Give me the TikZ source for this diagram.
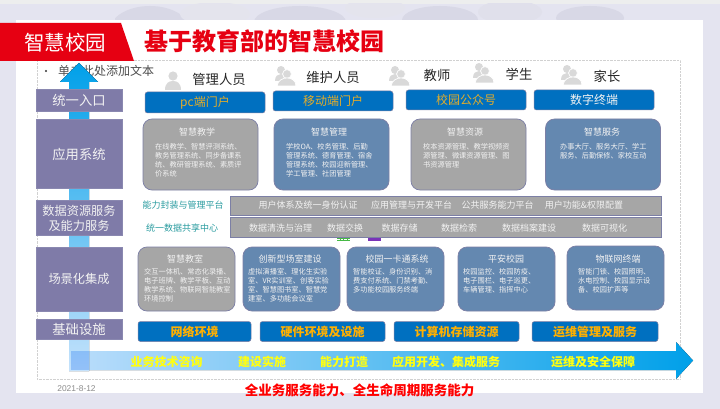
\documentclass[tikz,border=0pt]{standalone}
\usepackage{fontspec}
\setmainfont{Noto Sans CJK SC}
\newfontfamily\latinf{Liberation Sans}
\definecolor{pagebg}{HTML}{E4E4F0}
\definecolor{stripc}{HTML}{EDEEEE}
\definecolor{petal}{HTML}{D8D8E6}
\definecolor{redc}{HTML}{E60012}
\definecolor{purplec}{HTML}{7F7BA8}
\definecolor{purpleedge}{HTML}{8A88B0}
\definecolor{bluec}{HTML}{0070C0}
\definecolor{goldc}{HTML}{E3AC2A}
\definecolor{goldb}{HTML}{FFB000}
\definecolor{grayc}{HTML}{A6A6A6}
\definecolor{steelc}{HTML}{6488B0}
\definecolor{edgec}{HTML}{7C7FA5}
\definecolor{skyc}{HTML}{00A0E9}
\definecolor{palesky}{HTML}{BBDDFB}
\definecolor{tealc}{HTML}{2A9CA0}
\definecolor{softw}{HTML}{F2F2F2}
\definecolor{iconc}{HTML}{D9D9D9}
\definecolor{yellowc}{HTML}{FFFF10}
\tikzset{
  x=1pt,y=-1pt,
  sidebox/.style={fill=purplec,draw=purpleedge,line width=.5pt,text=softw,align=center,inner sep=0pt,font=\fontsize{13.3}{16}\selectfont},
  portal/.style={fill=bluec,draw=edgec,line width=.5pt,rounded corners=2.5pt,inner sep=0pt,font=\fontsize{12}{14}\selectfont},
  infra/.style={fill=bluec,draw=edgec,line width=.5pt,rounded corners=2.5pt,inner sep=0pt,text=goldb,font=\bfseries\fontsize{12}{14}\selectfont},
  graycard/.style={fill=grayc,draw=edgec,line width=.7pt,rounded corners=9pt},
  steelcard/.style={fill=steelc,draw=edgec,line width=.7pt,rounded corners=9pt},
  cardtitle/.style={text=softw,inner sep=0pt,font=\fontsize{9}{11}\selectfont},
  cardbody/.style={text=softw,inner sep=0pt,anchor=north west,align=left,font=\fontsize{7.2}{9}\selectfont},
  barbox/.style={fill=grayc,draw=edgec,line width=.5pt},
  bartext/.style={text=softw,inner sep=0pt,font=\fontsize{9}{11}\selectfont},
  teallabel/.style={text=tealc,inner sep=0pt,font=\fontsize{9}{11}\selectfont},
  rolelabel/.style={text=black!85,inner sep=0pt,font=\fontsize{13.3}{15}\selectfont},
  flowlabel/.style={text=yellowc,inner sep=0pt,font=\bfseries\fontsize{12}{14}\selectfont},
  icon1/.pic={\fill[iconc] (0,-5) circle (4.6); \fill[iconc] (-8,9) .. controls (-8,2) and (-4,0) .. (0,0) .. controls (4,0) and (8,2) .. (8,9) -- cycle;},
  icon2/.pic={\fill[iconc] (-4,-7) circle (4); \fill[iconc] (-10,4) .. controls (-10,-1) and (-7,-3) .. (-4,-3) .. controls (-1,-3) and (2,-1) .. (2,4) -- cycle;
              \filldraw[fill=iconc,draw=white,line width=.7pt] (2,-3) circle (4.4); \filldraw[fill=iconc,draw=white,line width=.7pt] (-8,9) .. controls (-7,3) and (-2,1) .. (2,1) .. controls (6,1) and (11,3) .. (11,9) -- cycle;},
}
\begin{document}
\begin{tikzpicture}
\useasboundingbox (0,0) rectangle (720,409);
% page
\fill[pagebg] (0,0) rectangle (720,409);
\fill[stripc] (0,0) rectangle (720,4);
\begin{scope}
  \clip (115,4) rectangle (630,20);
  \fill[petal] (150,30) ellipse (40 and 24);
  \fill[petal!70] (215,14) ellipse (35 and 12);
  \fill[petal] (300,22) ellipse (46 and 16);
  \fill[petal!70] (375,8) ellipse (30 and 10);
  \fill[petal] (440,20) ellipse (38 and 14);
  \fill[petal!80] (510,12) ellipse (32 and 12);
  \fill[petal] (590,18) ellipse (34 and 12);
\end{scope}
\fill[white] (16,20) rectangle (703,393);
\draw[black!18,densely dotted,line width=.4pt] (37,60) rectangle (680,379);
% header
\fill[redc] (0,23) -- (121,23) -- (134,61) -- (0,61) -- cycle;
\node[text=white,inner sep=0pt,font=\fontsize{20.5}{22}\selectfont] (brand) at (65,43) {智慧校园};
\node[text=redc,inner sep=0pt,font=\bfseries\fontsize{24}{26}\selectfont] (title) at (264.5,41) {基于教育部的智慧校园};
\node[text=black!70,inner sep=0pt,anchor=west,font=\fontsize{12}{14}\selectfont] (bullet) at (58,71) {单击此处添加文本};
\fill[black!80] (46,71) circle (1.1);
% flow arrows
\fill[left color=palesky,right color=skyc] (71,351) -- (676,351) -- (676,342) -- (693,360.5) -- (676,379) -- (676,370) -- (71,370) -- cycle;
\fill[top color=skyc,bottom color=palesky!85] (79,63) -- (98,82) -- (89,82) -- (89,371) -- (69,371) -- (69,82) -- (60,82) -- cycle;
\fill[blue!40!skyc,opacity=.25] (71,351) rectangle (89,370);
% side boxes
\node[sidebox,minimum width=86pt,minimum height=22pt] (s1) at (79,100) {统一入口};
\node[sidebox,minimum width=86pt,minimum height=69pt] (s2) at (79,154) {应用系统};
\node[sidebox,minimum width=86pt,minimum height=35pt,font=\fontsize{12.2}{15}\selectfont] (s3) at (79,218) {数据资源服务\\及能力服务};
\node[sidebox,minimum width=86pt,minimum height=64pt,font=\fontsize{12.2}{15}\selectfont] (s4) at (79,279) {场景化集成};
\node[sidebox,minimum width=86pt,minimum height=20pt] (s5) at (79,329) {基础设施};
% roles
\pic at (173,81) {icon1};
\pic at (285,77) {icon2};
\pic at (399,77) {icon2};
\pic at (483,74) {icon2};
\pic at (571,76) {icon2};
\node[rolelabel] (r1) at (219,79) {管理人员};
\node[rolelabel] (r2) at (333,77) {维护人员};
\node[rolelabel] (r3) at (437,75) {教师};
\node[rolelabel] (r4) at (519,74) {学生};
\node[rolelabel] (r5) at (607,76) {家长};
% portals
\node[portal,text=goldc,minimum width=120pt,minimum height=21pt] (p1) at (205,102.5) {pc端门户};
\node[portal,text=goldc,minimum width=120pt,minimum height=20pt] (p2) at (333,101) {移动端门户};
\node[portal,text=goldc,minimum width=120pt,minimum height=20pt] (p3) at (466,100) {校园公众号};
\node[portal,text=softw,minimum width=120pt,minimum height=20pt] (p4) at (594,100) {数字终端};
% application cards
\node[graycard,minimum width=115pt,minimum height=71pt] (a1) at (200.5,154.5) {};
\node[steelcard,minimum width=115pt,minimum height=71pt] (a2) at (331.5,154.5) {};
\node[graycard,minimum width=115pt,minimum height=71pt] (a3) at (468.5,154.5) {};
\node[steelcard,minimum width=115pt,minimum height=71pt] (a4) at (603,154.5) {};
\node[cardtitle] (a1t) at (197,132) {智慧教学};
\node[cardtitle] (a2t) at (329,132) {智慧管理};
\node[cardtitle] (a3t) at (465,132) {智慧资源};
\node[cardtitle] (a4t) at (602,132) {智慧服务};
\node[cardbody] (a1b) at (155,143.5) {在线教学、智慧评测系统、\\教务管理系统、同步备课系\\统、教研管理系统、素质评\\价系统};
\node[cardbody] (a2b) at (286,143.5) {学校OA、校务管理、后勤\\管理系统、德育管理、宿舍\\管理系统、校园迎新管理、\\学工管理、社团管理};
\node[cardbody] (a3b) at (423,143.5) {校本资源管理、教学视频资\\源管理、微课资源管理、图\\书资源管理};
\node[cardbody] (a4b) at (560,143.5) {办事大厅、服务大厅、学工\\服务、后勤保修、家校互动};
% middle layer
\node[teallabel] (m1) at (183,205) {能力封装与管理平台};
\node[teallabel] (m2) at (182,228) {统一数据共享中心};
\node[barbox,minimum width=431pt,minimum height=19pt] (b1) at (445.5,205.5) {};
\node[barbox,minimum width=431pt,minimum height=20pt] (b2) at (445.5,227) {};
\node[bartext] (b11) at (308,205) {用户体系及统一身份认证};
\node[bartext] (b12) at (411.5,205) {应用管理与开发平台};
\node[bartext] (b13) at (497.5,205) {公共服务能力平台};
\node[bartext] (b14) at (584,205) {用户功能\&权限配置};
\node[bartext] (b21) at (280.5,228.5) {数据清洗与治理};
\node[bartext] (b22) at (345,228.5) {数据交换};
\node[bartext] (b23) at (399.5,228.5) {数据存储};
\node[bartext] (b24) at (459,228.5) {数据检索};
\node[bartext] (b25) at (529,228.5) {数据档案建设};
\node[bartext] (b26) at (604.5,228.5) {数据可视化};
% small remnants below the bar
\draw[green!45!gray,line width=.6pt] (337,238) -- (350,238) (337,240.5) -- (350,240.5) (340,238) -- (340,240.5) (343.5,238) -- (343.5,240.5) (347,238) -- (347,240.5);
\fill[violet!70!blue!80!white] (368,237.5) rectangle (381,241);
% scenario cards
\node[graycard,minimum width=97pt,minimum height=64pt] (c1) at (186.5,279) {};
\node[steelcard,minimum width=97pt,minimum height=64pt] (c2) at (291.5,279) {};
\node[steelcard,minimum width=97pt,minimum height=64pt] (c3) at (395.5,279) {};
\node[steelcard,minimum width=97pt,minimum height=64pt] (c4) at (506.5,279) {};
\node[steelcard,minimum width=97pt,minimum height=64pt] (c5) at (615.5,278) {};
\node[cardtitle] (c1t) at (185,259.5) {智慧教室};
\node[cardtitle] (c2t) at (290,259.5) {创新型场室建设};
\node[cardtitle] (c3t) at (397,259.5) {校园一卡通系统};
\node[cardtitle] (c4t) at (506,259.5) {平安校园};
\node[cardtitle] (c5t) at (618,259) {物联网终端};
\node[cardbody] (c1b) at (144,268.5) {交互一体机、常态化录播、\\电子班牌、教学平板、互动\\教学系统、物联网智能教室\\环境控制};
\node[cardbody] (c2b) at (248,268.5) {虚拟演播室、理化生实验\\室、VR实训室、创客实验\\室、智慧图书室、智慧党\\建室、多功能会议室};
\node[cardbody] (c3b) at (353,268.5) {智能校证、身份识别、消\\费支付系统、门禁考勤、\\多功能校园服务终端};
\node[cardbody] (c4b) at (463,268.5) {校园监控、校园防疫、\\电子围栏、电子巡更、\\车辆管理、指挥中心};
\node[cardbody] (c5b) at (578,268) {智能门锁、校园照明、\\水电控制、校园显示设\\备、校园扩声等};
% infrastructure
\node[infra,minimum width=113pt,minimum height=20pt] (i1) at (194.5,331.5) {网络环境};
\node[infra,minimum width=125pt,minimum height=20pt] (i2) at (322.5,331.5) {硬件环境及设施};
\node[infra,minimum width=125pt,minimum height=20pt] (i3) at (456.5,331.5) {计算机存储资源};
\node[infra,minimum width=126pt,minimum height=20pt] (i4) at (595,331.5) {运维管理及服务};
% flow labels
\node[flowlabel] (f1) at (166.5,362) {业务技术咨询};
\node[flowlabel] (f2) at (262,362) {建设实施};
\node[flowlabel] (f3) at (344,362) {能力打造};
\node[flowlabel] (f4) at (446,362) {应用开发、集成服务};
\node[flowlabel] (f5) at (593,362) {运维及安全保障};
% footer
\node[text=black!45,inner sep=0pt,font=\latinf\fontsize{8.4}{10}\selectfont] (date) at (76.5,389) {2021-8-12};
\node[text=red,inner sep=0pt,font=\bfseries\fontsize{13.5}{15}\selectfont] (foot) at (359.5,390) {全业务服务能力、全生命周期服务能力};
\end{tikzpicture}
\end{document}
